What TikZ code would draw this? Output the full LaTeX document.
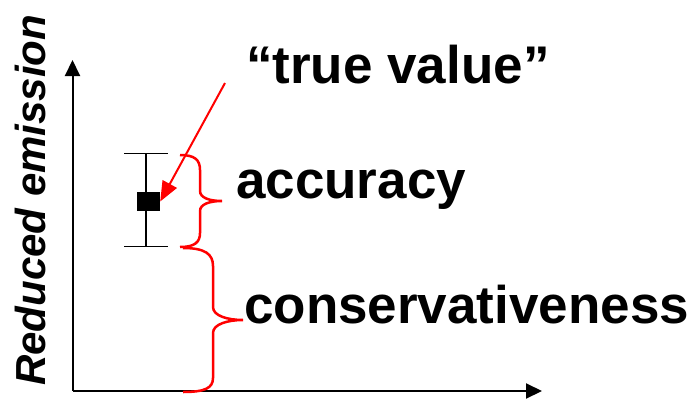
\documentclass[tikz,border=0pt]{standalone}
\usepackage{fontspec}
\setmainfont{Liberation Sans}
\usetikzlibrary{arrows.meta}
\begin{document}
\begin{tikzpicture}[x=1pt,y=-1pt,
  axis/.style={line width=2pt,-{Triangle[length=16pt,width=15pt]}},
  errbar/.style={line width=1.5pt},
  bracepath/.style={red,line width=2.5pt},
  redarrow/.style={red,line width=2pt,-{Triangle[length=20pt,width=16pt]}},
  bigtext/.style={font=\bfseries\fontsize{53}{60}\selectfont,inner sep=0pt,anchor=base west},
  point/.style={fill=black,draw=none,rectangle,minimum width=23pt,minimum height=19pt,inner sep=0pt}]
\useasboundingbox (0,0) rectangle (700,404);
% axes
\coordinate (origin) at (72.5,391);
\coordinate (ytip) at (72.5,60);
\coordinate (xtip) at (542,391);
\draw[axis] (origin) -- (ytip);
\draw[axis] (origin) -- (xtip);
\node[font=\bfseries\itshape\fontsize{42}{50}\selectfont,rotate=90,anchor=base west,inner sep=0pt] (ylabel) at (45,386) {Reduced emission};
% error bar
\coordinate (topcapL) at (124,153.5);
\coordinate (topcapR) at (168,153.5);
\coordinate (botcapL) at (124,246.5);
\coordinate (botcapR) at (168,246.5);
\coordinate (topmid) at (146,153.5);
\coordinate (botmid) at (146,246.5);
\draw[errbar] (topcapL) -- (topcapR);
\draw[errbar] (botcapL) -- (botcapR);
\draw[errbar] (topmid) -- (botmid);
\node[point] (val) at (148.5,201.5) {};
% texts
\node[bigtext] (truev) at (246,83) {“true value”};
\node[bigtext] (acc) at (236,198) {accuracy};
\node[bigtext] (cons) at (244,323) {conservativeness};
% red arrow
\coordinate (arrstart) at (225,83);
\draw[redarrow] (arrstart) -- (val.east);
% brace 1
\coordinate (b1top) at (180,155);
\coordinate (b1tip) at (222,201);
\coordinate (b1bot) at (180,247);
\draw[bracepath] (b1top) .. controls (195,155) and (200,160) .. (200,170) -- (200,191)
  .. controls (200,198) and (210,201) .. (b1tip)
  .. controls (210,201) and (200,204) .. (200,211) -- (200,233)
  .. controls (200,242) and (195,247) .. (b1bot);
% brace 2
\coordinate (b2top) at (183,248);
\coordinate (b2tip) at (243,320);
\coordinate (b2bot) at (183,392);
\draw[bracepath] (b2top) .. controls (205,248) and (213,254) .. (213,266) -- (213,307)
  .. controls (213,316) and (228,320) .. (b2tip)
  .. controls (228,320) and (213,324) .. (213,333) -- (213,378)
  .. controls (213,388) and (205,392) .. (b2bot);
\end{tikzpicture}
\end{document}
